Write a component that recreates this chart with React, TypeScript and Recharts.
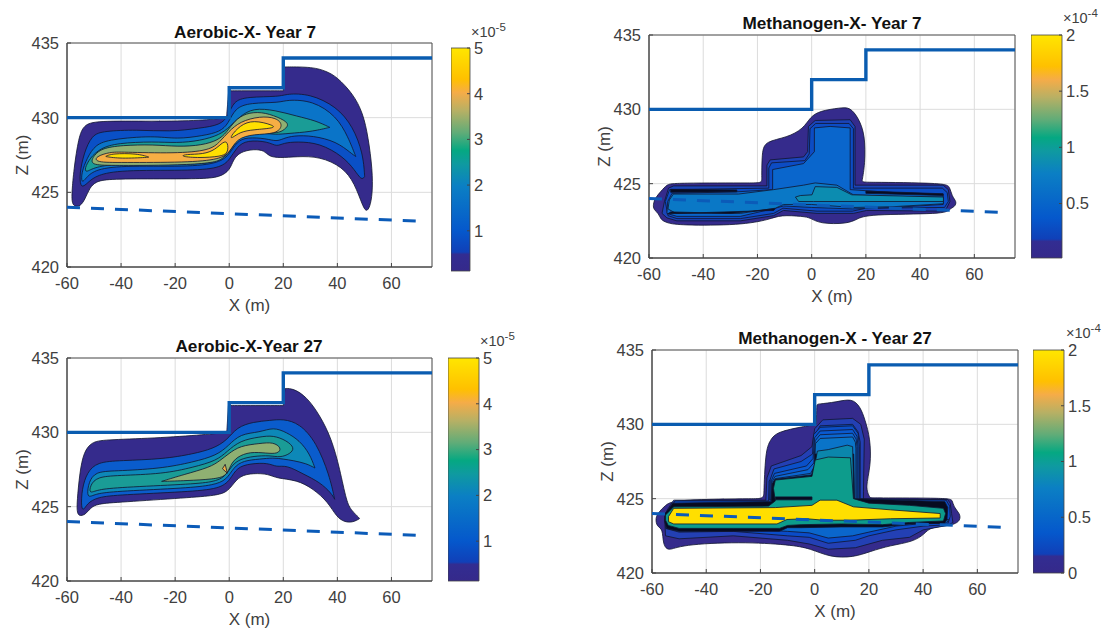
import { ScatterChart, Scatter, BarChart, Bar, XAxis, YAxis, CartesianGrid, ReferenceArea } from 'recharts';

type Pt = [number, number];

const xTicks = [-60, -40, -20, 0, 20, 40, 60];
const zTicks = [420, 425, 430, 435];

const surface: Pt[] = [[-60, 430], [0, 430], [0, 432], [20, 432], [20, 434], [75, 434]];
const waterTable: Pt[] = [[-60, 424], [72.6, 423.05]];

const PURPLE = '#352b8c';
const BLUE1 = '#0a50c6';
const BLUE2 = '#0a74c8';
const BLUE3 = '#0d88b8';
const TEAL = '#1a9c96';
const OLIVE = '#8fb072';
const ORANGE = '#f6ae44';
const YELLOW = '#ffdf00';
const BLACK = '#070b20';

// Aerobic, year 7
const a7Outer: Pt[] = [[-58.2, 425], [-57.5, 426.5], [-55.7, 428.7], [-53.8, 429.5], [-49.5, 429.8], [-28, 429.75], [-10, 429.8], [-1, 430], [-1, 430], [-0.2, 431.8], [-0.2, 431.8], [-0.2, 431.8], [20, 431.8], [20, 431.8], [20, 431.8], [20.5, 433.4], [20.5, 433.4], [20.5, 433.4], [31, 433.4], [36, 433.1], [39.7, 432.75], [45.8, 431.6], [49.5, 430.3], [51.4, 428.7], [53, 426.5], [53, 424.9], [52, 424], [50.8, 423.7], [49.5, 424], [46.4, 425.6], [42, 426.7], [33.5, 427.4], [25, 427.4], [18.8, 427.3], [14.5, 427.4], [13.2, 427.8], [9, 427.9], [4, 427.7], [1.5, 427.2], [0.3, 426.5], [-3.4, 426], [-10.8, 425.9], [-28, 425.9], [-45.2, 425.9], [-49.5, 425.7], [-51.6, 425.3], [-53.2, 424.6], [-55, 424.05], [-57.5, 424.05], [-58.2, 424.4]];
const a7Blue: Pt[] = [[-55.4, 426.2], [-53.8, 427.6], [-50.8, 428.85], [-46.5, 429.1], [-34.2, 429.2], [-21.9, 429.05], [-10.8, 429.3], [-3.4, 429.5], [-0.3, 430.1], [1.5, 431.1], [6.5, 431.4], [18.8, 431.4], [21.2, 431.6], [29.8, 431.6], [39.7, 430.75], [45.8, 429.4], [49.5, 427.6], [50.1, 426.05], [50.1, 426.05], [48.9, 425.8], [46.4, 426.5], [42.1, 427.4], [33.5, 428.3], [25, 428.4], [20, 428.3], [17.5, 428.05], [14.5, 428.4], [6.5, 428.5], [2.8, 428.05], [0.3, 427.2], [-3.4, 426.6], [-15.7, 426.45], [-40.3, 426.5], [-49, 426.15], [-52, 425.7], [-53.8, 425.4], [-55, 425.4]];
const a7Mid: Pt[] = [[-54.7, 426.3], [-52.6, 427.3], [-49.5, 428.2], [-44, 428.55], [-28, 428.8], [-19.4, 428.55], [-9.5, 428.8], [-3.4, 429.05], [-0.3, 429.6], [2.1, 430.65], [7.7, 431], [18.8, 431], [21.2, 431.2], [30.9, 431.15], [39.7, 430.1], [44, 428.7], [46.8, 427.4], [46.8, 427.4], [46.8, 427.4], [45.2, 427.6], [39.7, 428.4], [30.9, 428.8], [23.7, 428.8], [20, 428.6], [17.5, 428.4], [13.8, 428.6], [6.5, 428.7], [2.8, 428.4], [0.3, 427.6], [-3.4, 426.95], [-15.7, 426.7], [-40.3, 426.8], [-50.2, 426.5], [-53.2, 425.9], [-54.6, 425.6]];
const a7Teal: Pt[] = [[-53.5, 426.6], [-51.5, 427.3], [-47.7, 427.95], [-41.5, 428.3], [-28, 428.4], [-19.4, 428.3], [-10.8, 428.45], [-3.4, 428.85], [0.3, 429.4], [4, 430.1], [8.9, 430.65], [17, 430.5], [25, 430.1], [32, 429.8], [37.2, 429.35], [37.2, 429.35], [37.2, 429.35], [30, 429.05], [22, 428.95], [17, 428.85], [12, 429], [6, 428.9], [3, 428.6], [0.6, 427.8], [-3.4, 427], [-15.7, 426.85], [-40, 426.95], [-50, 426.7], [-53, 426.3]];
const a7Olive: Pt[] = [[-51.7, 426.85], [-50, 427.5], [-47, 427.95], [-40, 428.15], [-28, 428.2], [-19, 428.05], [-10, 428.15], [-4, 428.5], [-1, 429], [2, 429.8], [6, 430.3], [12, 430.4], [18, 430.05], [22.5, 429.6], [20.5, 429.2], [18, 428.95], [12, 429], [6, 428.95], [3, 428.6], [0.8, 428], [-2, 427.3], [-5, 427], [-15, 426.85], [-30, 426.8], [-45, 426.8]];
const a7Orange: Pt[] = [[-49.5, 427], [-49.5, 427.4], [-44, 427.7], [-40, 427.7], [-20, 427.6], [-7, 427.8], [-3.4, 428.4], [-0.3, 429.05], [4, 429.75], [11.4, 430.1], [17.5, 430], [20, 429.5], [17.5, 428.9], [9, 428.9], [2.8, 428.6], [0.3, 427.7], [-3.4, 427.2], [-15.7, 427], [-40.3, 427]];
const a7YellowA: Pt[] = [[-45.8, 427.4], [-45.8, 427.4], [-43.4, 427.6], [-34, 427.6], [-29.5, 427.35], [-29.5, 427.35], [-40.3, 427.25]];
const a7YellowB: Pt[] = [[-18.2, 427.4], [-16.3, 427.55], [-9.5, 427.55], [-5.2, 427.85], [-2.2, 428.4], [-0.5, 428.4], [-0.3, 427.6], [-3.4, 427.4], [-10.8, 427.3]];
const a7YellowC: Pt[] = [[0.3, 428.7], [4, 429.5], [9, 429.85], [16.3, 429.5], [17, 429.3], [9, 429.2], [4, 429.05], [0.9, 428.6]];

// Methanogen, year 7
const m7Outer: Pt[] = [[-58.5, 423.6], [-57.7, 424.05], [-55.5, 424.5], [-53.4, 424.95], [-50.9, 425.05], [-18.4, 425.05], [-18.4, 425.05], [-18.4, 427.15], [-17.1, 427.85], [-9.1, 428.1], [-3, 428.7], [-0.5, 429.5], [3.1, 429.9], [10.5, 430.1], [14.2, 430.15], [17.3, 429.4], [19.7, 428.3], [19.7, 426.3], [18.5, 425.1], [18.5, 425.1], [49.2, 425.05], [51, 424.8], [51.7, 424.15], [53.5, 423.8], [52.9, 423.45], [50.4, 423.25], [49.2, 422.95], [20.3, 422.95], [16.7, 422.6], [13, 422.3], [3.1, 422.3], [-0.5, 422.7], [-3, 422.8], [-11.6, 422.9], [-15.3, 422.6], [-26.3, 422.2], [-48.5, 422.2], [-53.4, 422.35], [-55.8, 422.6], [-56.4, 423], [-58.3, 423.25]];
const m7Dark: Pt[] = [[-54.3, 423.8], [-52.8, 424.7], [-50.9, 424.85], [-16.5, 424.85], [-16.5, 426.25], [-15.3, 426.6], [-3, 426.8], [-1.5, 427.15], [-1.2, 428.85], [1.3, 429.25], [14.2, 429.3], [16, 428.85], [16, 424.9], [48.5, 424.9], [50.4, 424.6], [51, 423.8], [49.8, 423.35], [48.6, 423.15], [20.3, 423.2], [15.4, 423], [2, 423], [-10.4, 423.2], [-14, 422.85], [-26.3, 422.5], [-49.7, 422.5], [-53.4, 422.7], [-55.2, 423]];
const m7Blue: Pt[] = [[-54, 423.8], [-52.4, 424.6], [-15.8, 424.7], [-15.8, 426.05], [-14.8, 426.4], [-2.5, 426.55], [-0.9, 427], [-0.6, 428.7], [1.5, 429.05], [13.8, 429.05], [15.4, 428.7], [15.4, 424.7], [48.2, 424.7], [50, 424.4], [50.4, 423.8], [49, 423.4], [20, 423.35], [15, 423.15], [2, 423.15], [-10.6, 423.35], [-14, 423], [-26.3, 422.65], [-49.7, 422.65], [-53, 422.85]];
const m7Body: Pt[] = [[-53.1, 423.8], [-51.5, 424.35], [-27.6, 424.45], [-14.4, 424.6], [-14.4, 425.95], [-3, 426.35], [1, 427.15], [1, 428.75], [6.8, 428.85], [14.2, 428.75], [14.2, 424.6], [30, 424.4], [48.5, 424.3], [48.5, 423.6], [30, 423.4], [15, 423.3], [0, 423.4], [-10.4, 423.5], [-13.4, 423.35], [-26.3, 422.8], [-49.7, 422.8], [-53.4, 423]];
const m7Lower: Pt[] = [[-52.5, 423.9], [-51, 424.3], [-27, 424.3], [-14, 424.6], [-3, 424.9], [1.3, 425.05], [9.3, 424.9], [15.4, 424.25], [30, 424.15], [48.6, 424.1], [48.6, 423.65], [30, 423.45], [15.4, 423.4], [0, 423.6], [-10.4, 423.6], [-13.4, 423.35], [-26.3, 423], [-50, 423], [-53, 423.3]];
const m7Core: Pt[] = [[-6, 424.1], [-4.2, 424.2], [0.1, 424.25], [1.3, 424.8], [9.3, 424.75], [14.8, 424.25], [48.6, 424.1], [48.6, 423.8], [16.7, 423.8], [0.7, 423.8], [-4.8, 423.8]];
const m7StreakA: Pt[] = [[-52, 424.42], [-27.6, 424.45], [-27.6, 424.58], [-52, 424.62]];
const m7StreakB: Pt[] = [[20, 424.35], [48.5, 424.2], [48.5, 424.32], [20, 424.5]];
const m7StreakC: Pt[] = [[-53, 422.98], [-14, 423.2], [-13.4, 423.32], [-30, 423], [-52, 423.1]];

// Aerobic, year 27
const a27Outer: Pt[] = [[-56.3, 425.3], [-55.3, 427.3], [-53.8, 428.7], [-50.8, 429.35], [-46.5, 429.5], [-28, 429.6], [-8.3, 429.85], [-0.9, 430], [-0.9, 430], [-0.3, 431.8], [-0.3, 431.8], [-0.3, 431.8], [20, 431.8], [20, 431.8], [20, 431.8], [20.6, 432.95], [20.6, 432.95], [23.7, 432.95], [28.6, 432.4], [33.5, 431.15], [37.8, 429.6], [40.9, 427.55], [43.4, 425.3], [45.2, 424.75], [48.3, 424.2], [48.3, 424.2], [45.8, 423.95], [42.8, 423.95], [39.7, 424.3], [36.6, 425.3], [31.1, 426.2], [25, 426.8], [17.5, 426.9], [14.5, 427.2], [9, 427.25], [4, 427.1], [1, 426.4], [-0.9, 426], [-4.6, 425.75], [-15.7, 425.6], [-40.3, 425.3], [-48.9, 425.2], [-51.4, 424.9], [-53.2, 424.45], [-55.7, 424.35], [-56.3, 424.7]];
const a27Blue: Pt[] = [[-54.8, 424.9], [-54.5, 426.2], [-52.6, 427.3], [-48.9, 428], [-40.3, 428.1], [-24.4, 428.2], [-13.3, 428.55], [-6, 428.9], [-0.9, 429.45], [2.8, 430.35], [8.9, 430.7], [15, 430.8], [20, 430.9], [26, 430.6], [32.2, 429.35], [37.1, 427.1], [39, 425.5], [39, 425.5], [39, 425.5], [37.8, 425.9], [33.5, 426.65], [27.3, 427.2], [21.2, 427.8], [17.5, 427.65], [14.5, 427.95], [7.8, 427.9], [2.8, 427.65], [0.4, 426.8], [-3.4, 426.2], [-15.7, 426], [-40.3, 425.8], [-48.9, 425.65], [-52.6, 425.2], [-53.8, 424.75]];
const a27Mid: Pt[] = [[-52.6, 425.75], [-52, 426.65], [-49.5, 427.35], [-42.8, 427.4], [-25.5, 427.55], [-13.3, 428], [-4.6, 428.45], [-0.3, 429.1], [4, 429.9], [11.4, 430], [16.3, 430.35], [21.2, 430], [26, 429.45], [29.8, 428.55], [31.7, 427.6], [31.7, 427.6], [31.7, 427.6], [28.6, 427.9], [23.7, 428.1], [20, 428.2], [16.3, 428.3], [11.4, 428.2], [5.2, 428.1], [1.6, 427.65], [-0.9, 426.8], [-5.8, 426.45], [-15.7, 426.25], [-40.3, 426.05], [-48.9, 425.9], [-51.4, 425.65]];
const a27Teal: Pt[] = [[-51.8, 425.85], [-51.4, 426.45], [-48.9, 427], [-41.5, 427.1], [-24.4, 427.2], [-13.3, 427.65], [-4.6, 428.1], [-0.9, 428.7], [4, 429.45], [11.4, 429.7], [16.3, 429.8], [21.2, 429.45], [24.3, 428.95], [22.5, 428.55], [18.8, 428.3], [15.1, 428.45], [9, 428.4], [4, 428.2], [1, 427.8], [-1.5, 427], [-5.8, 426.65], [-15.7, 426.5], [-40.3, 426.3], [-48.9, 426.15]];
const a27Olive: Pt[] = [[-25, 426.7], [-25, 426.7], [-25, 426.7], [-17, 427.15], [-7, 427.65], [-3.4, 428.1], [-0.3, 428.55], [4, 429.1], [11.4, 429.25], [16.3, 429.35], [19.4, 428.95], [18.1, 428.55], [13.8, 428.6], [7.7, 428.7], [2.8, 428.35], [0.4, 427.8], [-0.9, 427.05], [-5.8, 426.85], [-15.7, 426.75]];
const a27Orange: Pt[] = [[-2.5, 427.55], [-1.5, 427.85], [-0.7, 427.25]];

// Methanogen, year 27
const m27Outer: Pt[] = [[-58.8, 423.7], [-58.2, 423.1], [-56, 423], [-56, 421.9], [-53.9, 421.45], [-49.6, 421.9], [-27.4, 422.1], [-9, 421.9], [-1.6, 421.65], [5.7, 421.05], [14.3, 421.05], [20.5, 421.45], [27.8, 421.85], [36.4, 422.1], [40.7, 422.65], [42.6, 423.1], [51.2, 423.2], [53.8, 423.55], [53.6, 424], [51.2, 424.45], [50.9, 424.9], [49.4, 425.05], [20.5, 425.05], [20.5, 425.05], [18.6, 425.7], [20.8, 427.25], [20.5, 429.05], [18.6, 430.3], [16.8, 431.2], [13.7, 431.75], [8.2, 431.5], [0.8, 431.35], [0.8, 431.35], [0.6, 430], [0.6, 430], [-4.1, 429.85], [-13.9, 429.5], [-16.4, 428.95], [-18.2, 428.2], [-18.8, 425], [-18.8, 425], [-52, 424.95], [-55.1, 424.55], [-57.5, 424.1]];
const m27Dark: Pt[] = [[-55.2, 423.9], [-54, 424.35], [-52, 424.9], [-18, 424.9], [-17.6, 426.4], [-16, 427.2], [-5, 427.9], [-1, 428.5], [0, 429.7], [3, 430.3], [14, 430.4], [17, 430], [18.3, 429], [18, 425.5], [18, 424.95], [49, 424.95], [50, 424.7], [50.5, 424], [51, 423.4], [49, 423.2], [40, 422.9], [35, 422.4], [25, 422.2], [15, 421.7], [5, 421.6], [-2, 421.95], [-10, 422.2], [-30, 422.5], [-50, 422.3], [-55, 422.5], [-55.3, 423.5]];
const m27Blue: Pt[] = [[-54.8, 423.9], [-53.5, 424.3], [-51.5, 424.85], [-17, 424.85], [-16.8, 426.2], [-15, 426.5], [-3, 427], [-0.5, 427.5], [0, 429.2], [2, 429.9], [14, 430], [16, 429.5], [16.8, 428.8], [16.8, 425], [48.5, 424.9], [49.8, 424.5], [50, 423.8], [49, 423.25], [40, 423.15], [30, 422.9], [20, 422.5], [15, 422.2], [5, 422], [-2, 422.4], [-10, 422.5], [-30, 422.8], [-50, 422.75], [-55, 423]];
const m27Under: Pt[] = [[-54.8, 423.2], [-30, 423], [-10, 422.8], [-2, 422.7], [5, 422.35], [14, 422.5], [20, 422.75], [30, 423.15], [38, 423.3], [48.6, 423.35], [49.4, 423.6], [-54.7, 423.8]];
const m27RingA: Pt[] = [[-16.6, 424.9], [-16.4, 426.3], [-15, 427], [-5, 427.5], [-0.8, 428], [-0.4, 429.3], [2, 429.8], [14, 429.9], [16, 429.4], [16.5, 428.5], [16.5, 424.9]];
const m27RingB: Pt[] = [[-16.2, 424.9], [-16, 426.2], [-14.8, 426.7], [-3, 427.2], [-0.6, 427.7], [0, 429.1], [2, 429.55], [14, 429.65], [15.6, 429.2], [16, 428.5], [16, 424.9]];
const m27RingC: Pt[] = [[-16, 424.9], [-15.8, 426.1], [-14.6, 426.5], [-2.5, 426.95], [-0.3, 427.4], [0.2, 428.9], [2, 429.3], [14, 429.4], [15.3, 429], [15.6, 428.5], [15.6, 424.9]];
const m27RingD: Pt[] = [[-15.8, 424.9], [-15.6, 426], [-14.5, 426.35], [-1.5, 426.7], [0, 427.2], [0.3, 428.7], [2, 429.05], [14, 429.15], [15, 428.8], [15.2, 428.4], [15.2, 424.9]];
const m27Black: Pt[] = [[-55.4, 423.5], [-55.2, 424], [-52.3, 424.7], [-16, 424.8], [-15.6, 426], [-14.6, 426.3], [-1.2, 426.6], [0, 427.3], [0.1, 428], [14.4, 428], [14.7, 425], [48, 424.8], [49.1, 424.4], [48.8, 423.6], [48, 423.35], [35, 423.3], [25, 423.1], [10, 423.1], [-5, 423.05], [-10, 423.05], [-13, 422.8], [-30, 422.8], [-50, 422.8], [-54.6, 423]];
const m27Upper: Pt[] = [[0.2, 427.4], [1, 428.2], [5, 428.3], [12, 428.6], [14, 428.5], [14.2, 427], [14.3, 425], [5, 425.2], [0.5, 425.2]];
const m27Teal: Pt[] = [[-55, 423.55], [-55, 423.9], [-52, 424.45], [-17, 424.5], [-14.5, 424.85], [-15.2, 425.7], [-14.5, 426.25], [-1, 426.5], [0.2, 427.6], [5, 427.8], [13.2, 427.75], [14.3, 425], [20, 424.7], [35, 424.55], [47.5, 424.35], [48.3, 424], [47.5, 423.5], [35, 423.4], [25, 423.25], [10, 423.3], [-5, 423.25], [-10, 423.2], [-13, 423], [-30, 423], [-50, 423], [-54, 423.2]];
const m27Slot: Pt[] = [[-14.5, 424.92], [-1, 424.92], [-1, 425.12], [-14.5, 425.12]];
const m27Yellow: Pt[] = [[-53.9, 423.8], [-52, 424.35], [-14.5, 424.4], [-1, 424.55], [2, 424.9], [8.2, 424.9], [14.3, 424.45], [27.9, 424.25], [46.3, 424], [46.3, 423.7], [27.9, 423.65], [13.1, 423.55], [3.3, 423.55], [-2.9, 423.65], [-10.2, 423.6], [-13.9, 423.3], [-52, 423.3], [-53.9, 423.45]];

const gradientStops: [number, string][] = [
  [0, '#35298a'], [0.075, '#322d92'], [0.085, '#1040b8'], [0.18, '#0558cc'], [0.38, '#0b7fc4'], [0.48, '#0f9aa0'],
  [0.54, '#05a882'], [0.62, '#60ac78'], [0.72, '#b8b064'], [0.8, '#f5ac48'], [0.86, '#ffc000'], [1, '#ffe600'],
];

const TICK_FONT = { fontFamily: 'Liberation Sans', fontSize: 16.5, fill: '#404040' };

const toRows = (pts: Pt[]) => pts.map(([x, z]) => ({ x, z }));
const noMark = () => <g />;

interface Band { points: Pt[]; fill: string; smooth?: boolean; width?: number }

interface PanelProps {
  left: number; top: number; width: number; height: number;
  title: string; titleX: number; titleY: number;
  bands: Band[];
}

const M_LEFT = 60;
const M_TOP = 12;
const M_BOTTOM = 62;

function Panel({ left, top, width, height, title, titleX, titleY, bands }: PanelProps) {
  return (
    <>
      <div style={{ position: 'absolute', left: titleX, top: titleY, transform: 'translateX(-50%)', font: 'bold 17.2px "Liberation Sans"', color: '#111', whiteSpace: 'nowrap' }}>
        {title}
      </div>
      <div style={{ position: 'absolute', left: left - M_LEFT, top: top - M_TOP }}>
        <ScatterChart width={width + M_LEFT + 6} height={height + M_TOP + M_BOTTOM} margin={{ left: 0, right: 6, top: M_TOP, bottom: 0 }}>
          <CartesianGrid stroke="#dcdcdc" strokeWidth={1} />
          <XAxis type="number" dataKey="x" domain={[-60, 75]} ticks={xTicks} height={M_BOTTOM} interval={0} allowDataOverflow
            stroke="#444" tick={TICK_FONT} tickSize={-4} tickMargin={14}
            label={{ value: 'X (m)', position: 'insideBottom', offset: 18, style: { ...TICK_FONT, fontSize: 17 } }} />
          <YAxis type="number" dataKey="z" domain={[420, 435]} ticks={zTicks} width={M_LEFT} interval={0} allowDataOverflow
            stroke="#444" tick={TICK_FONT} tickSize={-4} tickMargin={12}
            label={{ value: 'Z (m)', angle: -90, position: 'insideLeft', offset: 15, style: { ...TICK_FONT, fontSize: 17, textAnchor: 'middle' } }} />
          {bands.map((b, i) => (
            <Scatter key={i} data={toRows(b.points)} shape={noMark} isAnimationActive={false} lineJointType={b.smooth ? 'basisClosed' : 'linearClosed'}
              line={{ fill: b.fill, stroke: '#10152e', strokeWidth: b.width ?? 0.8 }} />
          ))}
          <Scatter data={toRows(waterTable)} shape={noMark} isAnimationActive={false}
            line={{ stroke: '#0b5bb8', strokeWidth: 3, strokeDasharray: '13 11' }} />
          <Scatter data={toRows(surface)} shape={noMark} isAnimationActive={false}
            line={{ stroke: '#0a5cb0', strokeWidth: 3.4 }} />
          <ReferenceArea x1={-60} x2={75} y1={420} y2={435} fill="none" stroke="#555" strokeWidth={1} />
        </ScatterChart>
      </div>
    </>
  );
}

interface BarProps {
  id: string; left: number; top: number; width: number; height: number;
  min: number; max: number; ticks: number[]; exp: string; expX: number; expY: number;
}

function ColorBar({ id, left, top, width, height, min, max, ticks, exp, expX, expY }: BarProps) {
  const row = [{ name: 'scale', range: [min, max] }];
  return (
    <>
      <div style={{ position: 'absolute', left: left, top: top - 10 }}>
        <BarChart width={width + 44} height={height + 20} data={row} margin={{ left: 0, right: 0, top: 10, bottom: 10 }} barCategoryGap={0}>
          <defs>
            <linearGradient id={id} x1="0" y1="1" x2="0" y2="0">
              {gradientStops.map(([o, c]) => <stop key={o} offset={o} stopColor={c} />)}
            </linearGradient>
          </defs>
          <XAxis dataKey="name" hide />
          <YAxis orientation="right" type="number" domain={[min, max]} ticks={ticks} width={44} interval={0} axisLine={false}
            stroke="#444" tick={TICK_FONT} tickSize={-3} tickMargin={7} />
          <Bar dataKey="range" fill={`url(#${id})`} stroke="#444" strokeWidth={0.8} isAnimationActive={false} />
        </BarChart>
      </div>
      <div style={{ position: 'absolute', left: expX, top: expY, font: '14.5px "Liberation Sans"', color: '#404040', whiteSpace: 'nowrap' }}>
        ×10<sup style={{ fontSize: 11.5, lineHeight: 0 }}>{exp}</sup>
      </div>
    </>
  );
}

const a7Bands: Band[] = [
  { points: a7Outer, fill: PURPLE, smooth: true }, { points: a7Blue, fill: BLUE1, smooth: true }, { points: a7Mid, fill: BLUE2, smooth: true }, { points: a7Teal, fill: TEAL, smooth: true },
  { points: a7Olive, fill: OLIVE, smooth: true }, { points: a7Orange, fill: ORANGE, smooth: true }, { points: a7YellowA, fill: YELLOW, smooth: true }, { points: a7YellowB, fill: YELLOW, smooth: true }, { points: a7YellowC, fill: YELLOW, smooth: true },
];
const m7Bands: Band[] = [
  { points: m7Outer, fill: PURPLE, smooth: true }, { points: m7Dark, fill: '#1b44b8' }, { points: m7Blue, fill: '#0c4cc4' }, { points: m7Body, fill: '#0a66cc' },
  { points: m7Lower, fill: '#0a78c6' }, { points: m7Core, fill: '#0c8cb0' },
  { points: m7StreakA, fill: BLACK }, { points: m7StreakB, fill: BLACK }, { points: m7StreakC, fill: BLACK },
];
const a27Bands: Band[] = [
  { points: a27Outer, fill: PURPLE, smooth: true }, { points: a27Blue, fill: '#0a5ccc', smooth: true }, { points: a27Mid, fill: BLUE3, smooth: true }, { points: a27Teal, fill: TEAL, smooth: true },
  { points: a27Olive, fill: OLIVE, smooth: true }, { points: a27Orange, fill: ORANGE },
];
const m27Bands: Band[] = [
  { points: m27Outer, fill: PURPLE, smooth: true }, { points: m27Dark, fill: '#2340b4' }, { points: m27Blue, fill: '#0a4cc8' }, { points: m27Under, fill: '#0a66cc' },
  { points: m27RingA, fill: '#0a50c8' }, { points: m27RingB, fill: '#0a5ad0' }, { points: m27RingC, fill: '#0a66d0' }, { points: m27RingD, fill: '#0a74c8' },
  { points: m27Black, fill: BLACK }, { points: m27Upper, fill: '#0b86ac' }, { points: m27Teal, fill: '#0d9c8c' }, { points: m27Slot, fill: BLACK }, { points: m27Yellow, fill: YELLOW },
];

export default function App() {
  return (
    <div style={{ position: 'absolute', left: 0, top: 0, width: 1102, height: 629, background: '#fff', overflow: 'hidden' }}>
      <Panel left={67} top={43} width={365} height={224} title="Aerobic-X- Year 7" titleX={245} titleY={22} bands={a7Bands} />
      <ColorBar id="cb1" left={451} top={48} width={19} height={223} min={0.12} max={5} ticks={[1, 2, 3, 4, 5]} exp="-5" expX={471} expY={24} />

      <Panel left={649} top={35} width={366} height={223} title="Methanogen-X- Year 7" titleX={832} titleY={13} bands={m7Bands} />
      <ColorBar id="cb2" left={1031} top={35} width={31} height={223} min={0.015} max={2} ticks={[0.5, 1, 1.5, 2]} exp="-4" expX={1063} expY={10} />

      <Panel left={67} top={358} width={365} height={223} title="Aerobic-X-Year 27" titleX={249} titleY={336} bands={a27Bands} />
      <ColorBar id="cb3" left={448} top={358} width={31} height={223} min={0.13} max={5} ticks={[1, 2, 3, 4, 5]} exp="-5" expX={480} expY={333} />

      <Panel left={652} top={350} width={366} height={223} title="Methanogen-X - Year 27" titleX={835} titleY={328} bands={m27Bands} />
      <ColorBar id="cb4" left={1033} top={350} width={31} height={223} min={0} max={2} ticks={[0, 0.5, 1, 1.5, 2]} exp="-4" expX={1066} expY={325} />
    </div>
  );
}
